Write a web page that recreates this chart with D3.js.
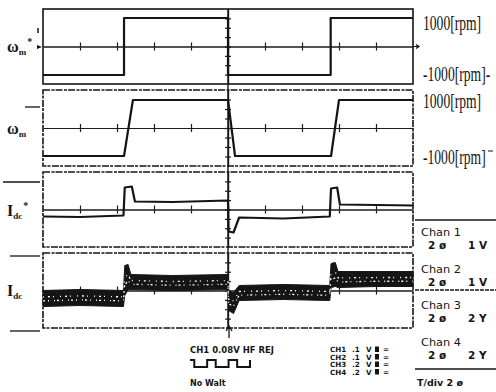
<!DOCTYPE html>
<html>
<head>
<meta charset="utf-8">
<script src="https://cdn.jsdelivr.net/npm/d3@7"></script>
<style>
  html, body { margin: 0; padding: 0; background: #fff; }
  svg { display: block; }
  .scope text { fill: #151515; }
  .grid path, .grid line { stroke: #1d1d1d; stroke-width: 1.2; }
</style>
</head>
<body>
<svg id="chart" class="scope" width="496" height="392"></svg>
<script>
// time base: 10 div, T/div 2 s
const divTicks = [0, 2, 4, 6, 8, 10, 12, 14, 16, 18, 20];

// speed reference w_m* [rpm]
const wRefTime = [0, 4.38, 4.38, 10.0, 10.0, 15.55, 15.55, 20];
const wRefRpm = [-1000, -1000, 1000, 1000, -1000, -1000, 1000, 1000];

// measured speed w_m [rpm]
const wTime = [0, 4.38, 4.86, 10.0, 10.38, 15.57, 16.0, 20];
const wRpm = [-1000, -1000, 1000, 1000, -1000, -1000, 1000, 1000];

// dc current reference Idc* [A]
const idcRefTime = [0, 2, 4.35, 4.42, 4.8, 4.97, 7, 10.0, 10.03, 10.3, 10.6, 13, 15.5, 15.57, 15.9, 16.05, 18, 20];
const idcRefVal = [-0.7, -0.75, -0.6, 2.2, 2.3, 0.8, 0.75, 0.9, -2.2, -2.3, -0.8, -0.9, -0.7, 2.1, 2.2, 0.5, 0.45, 0.4];

// dc current Idc [A], noisy band: upper / lower envelope
const idcTime = [0, 2, 4.35, 4.42, 4.6, 4.75, 7, 10.0, 10.03, 10.3, 10.6, 13, 15.5, 15.57, 15.8, 15.95, 18, 20];
const idcHi = [0.0, 0.1, 0.0, 2.5, 2.6, 1.6, 1.5, 1.6, -0.1, -0.2, 0.5, 0.6, 0.5, 2.7, 2.8, 1.9, 1.9, 1.9];
const idcLo = [-1.6, -1.5, -1.6, -0.5, 0.1, 0.1, 0.0, 0.1, -2.0, -2.3, -1.0, -0.9, -1.0, 0.3, 0.4, 0.3, 0.4, 0.4];

// scope readout texts
const rpmLabels = ['1000[rpm]', '-1000[rpm]-', '1000[rpm]', '-1000[rpm]'];
const chanNames = ['Chan 1', 'Chan 2', 'Chan 3', 'Chan 4'];
const chanScales = [['2 \u00f8', '1 V'], ['2 \u00f8', '1 V'], ['2 \u00f8', '2 Y'], ['2 \u00f8', '2 Y']];
const chRows = [['CH1', '.1', 'V'], ['CH2', '.1', 'V'], ['CH3', '.2', 'V'], ['CH4', '.2', 'V']];
const probeWave = [1, 0, 0, 0, 1, 1, 0, 0, 0, 1, 1, 0, 0, 0, 1];

const svg = d3.select('#chart');
const ink = '#141414';

const x = d3.scaleLinear().domain([0, 20]).range([43, 413]);

const panels = [
  { top: 9, bottom: 84, dom: [-1316, 1316] },
  { top: 90, bottom: 166, dom: [-1357, 1357] },
  { top: 172, bottom: 247, dom: [-3.75, 3.75] },
  { top: 253, bottom: 328, dom: [-3.75, 3.75] }
];
panels.forEach(p => { p.y = d3.scaleLinear().domain(p.dom).range([p.bottom, p.top]); });

// frames + graticule
panels.forEach((p, i) => {
  const g = svg.append('g').attr('class', 'grid');
  g.append('rect')
    .attr('x', x(0)).attr('y', p.top)
    .attr('width', x(20) - x(0)).attr('height', p.bottom - p.top)
    .attr('fill', 'none').attr('stroke', ink).attr('stroke-width', 1.6)
    .attr('stroke-dasharray', i === 0 ? null : '7 1.5 3 1');

  const inner = divTicks.slice(1, -1);
  g.append('g').attr('transform', `translate(0,${p.y(0)})`)
    .call(d3.axisBottom(x).tickValues(inner).tickSize(4).tickSizeOuter(0).tickFormat(''));
  g.append('g').attr('transform', `translate(0,${p.y(0)})`)
    .call(d3.axisTop(x).tickValues(inner).tickSize(4).tickSizeOuter(0).tickFormat(''));

  // centre vertical axis with minor ticks
  const minor = d3.range(1, 8).map(k => p.dom[0] + (p.dom[1] - p.dom[0]) * k / 8);
  g.append('g').attr('transform', `translate(${x(10)},0)`)
    .call(d3.axisLeft(p.y).tickValues(minor).tickSize(3).tickSizeOuter(0).tickFormat(''));
  g.append('g').attr('transform', `translate(${x(10)},0)`)
    .call(d3.axisRight(p.y).tickValues(minor).tickSize(3).tickSizeOuter(0).tickFormat(''));
});
// centre line through the gaps
svg.append('line')
  .attr('x1', x(10)).attr('x2', x(10)).attr('y1', panels[0].top).attr('y2', panels[3].bottom)
  .attr('stroke', ink).attr('stroke-width', 1.4);

// traces
const trace = (p, ts, vs, w) => {
  svg.append('path')
    .datum(ts.map((t, i) => [t, vs[i]]))
    .attr('fill', 'none').attr('stroke', ink).attr('stroke-width', w)
    .attr('stroke-linejoin', 'round')
    .attr('d', d3.line().x(d => x(d[0])).y(d => p.y(d[1])));
};
trace(panels[0], wRefTime, wRefRpm, 2.2);
trace(panels[1], wTime, wRpm, 2.2);
trace(panels[2], idcRefTime, idcRefVal, 2.2);

const band = idcTime.map((t, i) => ({ t, hi: idcHi[i], lo: idcLo[i] }));
const p4 = panels[3];
svg.append('path').datum(band)
  .attr('fill', '#151515').attr('stroke', '#151515').attr('stroke-width', 1)
  .attr('d', d3.area().x(d => x(d.t)).y0(d => p4.y(d.lo)).y1(d => p4.y(d.hi)));
// speckle inside the band
[0.35, 0.6].forEach((f, k) => {
  svg.append('path').datum(band)
    .attr('fill', 'none').attr('stroke', '#fff').attr('stroke-width', 1.3)
    .attr('stroke-dasharray', k ? '1 4 2 3 1 6' : '2 3 1 5 1 2')
    .attr('d', d3.line().x(d => x(d.t)).y(d => p4.y(d.lo + (d.hi - d.lo) * f)));
});

// left labels
const serif = 'Liberation Serif, DejaVu Serif, serif';
const leftLab = (yy, main, sub, sup) => {
  const t = svg.append('text').attr('x', 7).attr('y', yy)
    .attr('font-family', serif).attr('font-weight', 'bold').attr('font-size', 16);
  t.append('tspan').text(main);
  t.append('tspan').attr('font-size', 9).attr('dy', 3).text(sub);
  if (sup) t.append('tspan').attr('font-size', 10).attr('dy', -10).attr('dx', 1).text(sup);
};
leftLab(52, '\u03c9', 'm', '*');
leftLab(134, '\u03c9', 'm', null);
leftLab(216, 'I', 'dc', '*');
leftLab(296, 'I', 'dc', null);

// channel ground markers
[[25, 40, 107], [3, 40, 182], [10, 40, 256], [10, 40, 331]].forEach(d => {
  svg.append('line').attr('x1', d[0]).attr('x2', d[1]).attr('y1', d[2]).attr('y2', d[2])
    .attr('stroke', ink).attr('stroke-width', 1.3);
});
svg.append('line').attr('x1', 38).attr('x2', 38).attr('y1', 28).attr('y2', 33).attr('stroke', ink).attr('stroke-width', 1.5);
svg.append('path').attr('d', 'M37,45 L42,47 L37,49 Z').attr('fill', ink);
svg.append('path').attr('d', `M${x(20)},${panels[0].y(0)} h6 M${x(20) + 3},${panels[0].y(0) - 2} l3,2 l-3,2`)
  .attr('fill', 'none').attr('stroke', ink).attr('stroke-width', 1.2);

// right rpm labels (narrow serif, squeezed horizontally)
const rpmY = [30, 81, 108, 164];
rpmLabels.forEach((s, i) => {
  svg.append('text')
    .attr('transform', `translate(423,${rpmY[i]}) scale(0.68,1)`)
    .attr('font-family', serif).attr('font-size', 20).text(s);
});
svg.append('line').attr('x1', 488).attr('x2', 493).attr('y1', 151).attr('y2', 151)
  .attr('stroke', ink).attr('stroke-width', 1);

// channel readout box
const sans = 'DejaVu Sans, sans-serif';
[220, 290, 369].forEach(yy => {
  svg.append('line').attr('x1', 415).attr('x2', 496).attr('y1', yy).attr('y2', yy)
    .attr('stroke', ink).attr('stroke-width', 1.3).attr('stroke-dasharray', yy === 290 ? '4 1' : null);
});
const chanY = [236, 273, 309, 346];
chanNames.forEach((n, i) => {
  svg.append('text').attr('x', 421).attr('y', chanY[i]).attr('font-family', sans)
    .attr('font-size', 11).attr('textLength', 40).attr('lengthAdjust', 'spacingAndGlyphs').text(n);
  svg.append('text').attr('x', 428).attr('y', chanY[i] + 13).attr('font-family', sans)
    .attr('font-size', 10.5).attr('font-weight', 'bold').text(chanScales[i][0]);
  svg.append('text').attr('x', 468).attr('y', chanY[i] + 13).attr('font-family', sans)
    .attr('font-size', 10.5).attr('font-weight', 'bold').text(chanScales[i][1]);
});
svg.append('text').attr('x', 417).attr('y', 386).attr('font-family', sans)
  .attr('font-size', 9.5).attr('font-weight', 'bold').text('T/div  2  \u00f8');

// CH sensitivity rows
const rowY = [352, 359.5, 367, 374.5];
chRows.forEach((r, i) => {
  const g = svg.append('g').attr('font-family', sans).attr('font-size', 7.2).attr('font-weight', 'bold');
  g.append('text').attr('x', 330).attr('y', rowY[i]).text(r[0]);
  g.append('text').attr('x', 352).attr('y', rowY[i]).text(r[1]);
  g.append('text').attr('x', 366).attr('y', rowY[i]).text(r[2]);
  g.append('rect').attr('x', 375).attr('y', rowY[i] - 5.5).attr('width', 4).attr('height', 5.5).attr('fill', ink);
  g.append('text').attr('x', 383).attr('y', rowY[i]).text('=');
});

// trigger readout
svg.append('path').attr('d', `M${x(10) + 1},338 V326 M${x(10) - 2},331 L${x(10) + 1},326 L${x(10) + 4},331`)
  .attr('fill', 'none').attr('stroke', ink).attr('stroke-width', 1.3);
svg.append('text').attr('x', 190).attr('y', 353).attr('font-family', sans).attr('font-size', 8)
  .attr('font-weight', 'bold').attr('textLength', 84).attr('lengthAdjust', 'spacingAndGlyphs')
  .text('CH1  0.08V  HF REJ');
const wx = d3.scaleLinear().domain([0, probeWave.length - 1]).range([190, 250]);
svg.append('path').datum(probeWave)
  .attr('fill', 'none').attr('stroke', ink).attr('stroke-width', 2)
  .attr('d', d3.line().x((d, i) => wx(i)).y(d => d ? 360 : 367).curve(d3.curveStepAfter));
svg.append('text').attr('x', 190).attr('y', 386).attr('font-family', sans).attr('font-size', 8)
  .attr('font-weight', 'bold').text('No Walt');
</script>
</body>
</html>
